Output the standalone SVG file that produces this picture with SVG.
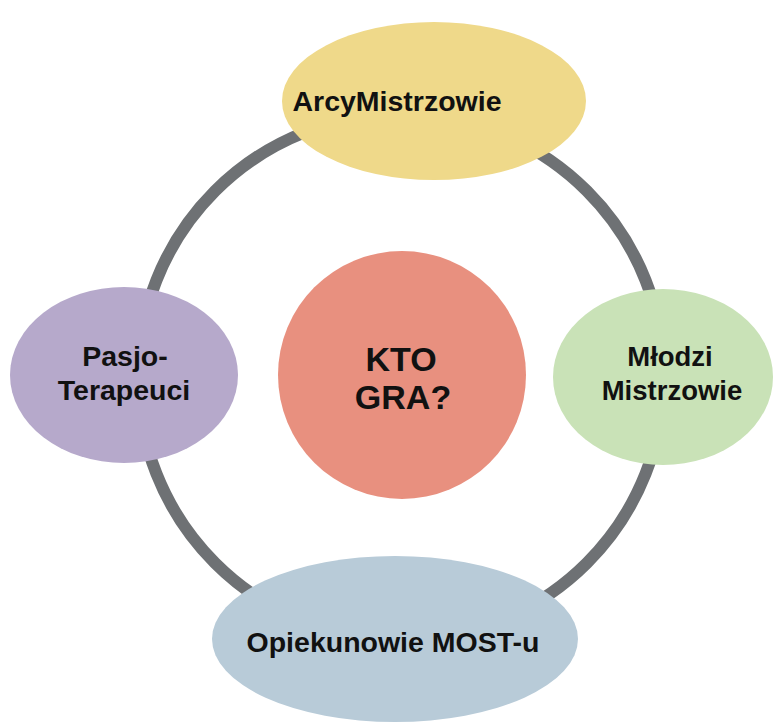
<svg xmlns="http://www.w3.org/2000/svg" width="774" height="724" viewBox="0 0 774 724">
<style>
  .lbl { font-family: "Liberation Sans", Arial, sans-serif; font-weight: bold; fill: #111; text-anchor: middle; }
  .ring { fill: none; stroke: #6e7174; stroke-width: 12; }
</style>
<rect width="774" height="724" fill="#ffffff"/>
<g id="connectors">
  <circle class="ring" cx="401" cy="377" r="263"/>
</g>
<g id="node-top">
  <ellipse cx="434" cy="101" rx="152" ry="79" fill="#efd98a"/>
  <text class="lbl" x="397" y="111" font-size="28.5">ArcyMistrzowie</text>
</g>
<g id="node-left">
  <ellipse cx="124" cy="375" rx="114" ry="88" fill="#b6a9cb"/>
  <text class="lbl" x="125" y="366" font-size="28.5">Pasjo-</text>
  <text class="lbl" x="124" y="400" font-size="28.5">Terapeuci</text>
</g>
<g id="node-right">
  <ellipse cx="663" cy="377" rx="110" ry="88" fill="#c9e2b7"/>
  <text class="lbl" x="670" y="366" font-size="27.5">Młodzi</text>
  <text class="lbl" x="672" y="400" font-size="27.5">Mistrzowie</text>
</g>
<g id="node-bottom">
  <ellipse cx="395" cy="639" rx="183" ry="83" fill="#b8cbd8"/>
  <text class="lbl" x="393" y="652" font-size="28.5">Opiekunowie MOST-u</text>
</g>
<g id="node-center">
  <circle cx="402" cy="375" r="124" fill="#e8907f"/>
  <text class="lbl" x="401" y="371" font-size="34">KTO</text>
  <text class="lbl" x="403" y="409" font-size="34">GRA?</text>
</g>
</svg>
